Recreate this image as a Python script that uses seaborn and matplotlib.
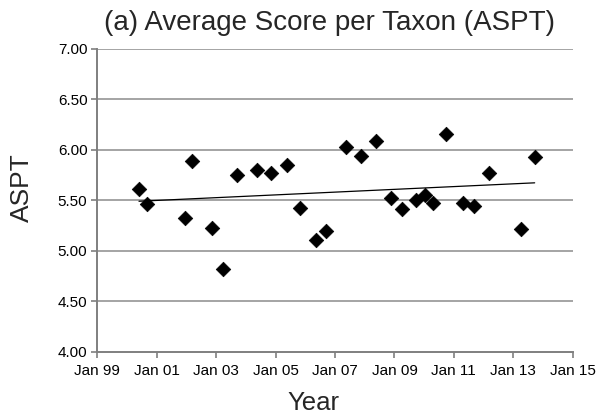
import matplotlib
matplotlib.use("Agg")
import matplotlib.pyplot as plt
import matplotlib.dates as mdates
import numpy as np
import pandas as pd
import seaborn as sns

# -- ASPT samples
dates = [
    "2000-05-29", "2000-09-01", "2001-12-10", "2002-03-17", "2002-11-13",
    "2003-03-28", "2003-09-12", "2004-05-18", "2004-11-10", "2005-05-22",
    "2005-10-23", "2006-05-08", "2006-09-13", "2007-05-16", "2007-11-18",
    "2008-05-16", "2008-11-17", "2009-04-09", "2009-09-20", "2010-01-12",
    "2010-04-16", "2010-09-24", "2011-04-20", "2011-09-06", "2012-03-03",
    "2013-04-02", "2013-09-20",
]
aspt = [
    5.61, 5.46, 5.32, 5.89, 5.22,
    4.82, 5.75, 5.80, 5.77, 5.85,
    5.42, 5.10, 5.19, 6.03, 5.94,
    6.08, 5.52, 5.41, 5.50, 5.55,
    5.47, 6.15, 5.47, 5.44, 5.77,
    5.21, 5.93,
]
y_ticks = [4.0, 4.5, 5.0, 5.5, 6.0, 6.5, 7.0]
x_ticks = ["1999-01-01", "2001-01-01", "2003-01-01", "2005-01-01", "2007-01-01",
           "2009-01-01", "2011-01-01", "2013-01-01", "2015-01-01"]

df = pd.DataFrame({"Date": pd.to_datetime(dates), "ASPT": aspt})

sns.set_theme(style="white")
plt.rcParams["font.family"] = ["Liberation Sans", "DejaVu Sans"]

fig = plt.figure(figsize=(5.96, 4.15), dpi=100)
ax = fig.add_axes([0.163, 0.153, 0.798, 0.730])

grid_col = "#8c8c8c"
for v in y_ticks[1:]:
    ax.axhline(v, color=grid_col, lw=1.1, zorder=0)

# linear trend (Excel style)
xnum = mdates.date2num(df["Date"])
slope, icpt = np.polyfit(xnum, df["ASPT"], 1)
xs = np.array([xnum.min(), xnum.max()])
ax.plot(mdates.num2date(xs), slope * xs + icpt, color="black", lw=0.9, zorder=2)

sns.scatterplot(data=df, x="Date", y="ASPT", marker="D", s=55, color="black",
                edgecolor="black", linewidth=0.5, ax=ax, zorder=3, legend=False)

ax.set_ylim(4.0, 7.0)
ax.set_yticks(y_ticks)
ax.set_yticklabels([f"{v:.2f}" for v in y_ticks])
ax.set_xlim(pd.Timestamp(x_ticks[0]), pd.Timestamp(x_ticks[-1]))
ax.set_xticks(pd.to_datetime(x_ticks))
ax.xaxis.set_major_formatter(mdates.DateFormatter("Jan %y"))

for s in ["top", "right"]:
    ax.spines[s].set_visible(False)
for s in ["left", "bottom"]:
    ax.spines[s].set_color("#7f7f7f")
    ax.spines[s].set_linewidth(1.4)

ax.tick_params(axis="both", which="major", direction="out", length=4, width=1.2,
               color="#7f7f7f", labelsize=11, labelcolor="black", pad=3,
               bottom=True, left=True)
ax.tick_params(axis="x", pad=5)
ax.set_xlabel("")
ax.set_ylabel("")

fig.text(329 / 596, 1 - 23 / 415, "(a) Average Score per Taxon (ASPT)",
         ha="center", va="center", fontsize=20)
fig.text(22 / 596, 1 - 188 / 415, "ASPT", ha="center", va="center",
         rotation=90, fontsize=19)
fig.text(313 / 596, 1 - 403 / 415, "Year", ha="center", va="center", fontsize=18.5)

fig.savefig("out.png", dpi=100)
